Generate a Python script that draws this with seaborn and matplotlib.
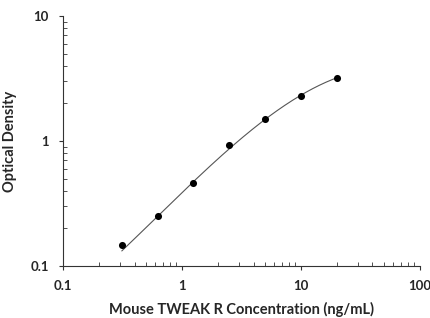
import matplotlib.pyplot as plt
import matplotlib.ticker as ticker
import seaborn as sns
import pandas as pd
import numpy as np

# standard curve readings
conc = [0.3125, 0.625, 1.25, 2.5, 5, 10, 20]
od = [0.147, 0.252, 0.464, 0.93, 1.50, 2.30, 3.21]

# fitted line
fit_conc = [0.3125, 0.625, 1.25, 2.5, 5, 10, 20]
fit_od = [0.1325, 0.248, 0.47, 0.88, 1.48, 2.30, 3.21]

sns.set_style("white")
plt.rcParams['font.family'] = ['Lato', 'DejaVu Sans']

df = pd.DataFrame({'conc': conc, 'od': od})

# smooth the fitted curve in log space
coef = np.polyfit(np.log10(fit_conc), np.log10(fit_od), 3)
xs = np.logspace(np.log10(fit_conc[0]), np.log10(fit_conc[-1]), 200)
curve = pd.DataFrame({'conc': xs, 'od': 10 ** np.polyval(coef, np.log10(xs))})

fig = plt.figure(figsize=(4.31, 3.18), dpi=100)
ax = fig.add_axes([0.146, 0.1635, 0.828, 0.7865])

sns.lineplot(data=curve, x='conc', y='od', ax=ax, color='#555555', linewidth=0.8)
sns.scatterplot(data=df, x='conc', y='od', ax=ax, color='black', s=26, edgecolor='black', linewidth=0, zorder=3)

ax.set_xscale('log')
ax.set_yscale('log')
ax.set_xlim(0.1, 100)
ax.set_ylim(0.1, 10)

ax.xaxis.set_major_formatter(ticker.FuncFormatter(lambda v, p: f'{v:g}'))
ax.yaxis.set_major_formatter(ticker.FuncFormatter(lambda v, p: f'{v:g}'))
ax.xaxis.set_minor_formatter(ticker.NullFormatter())
ax.yaxis.set_minor_formatter(ticker.NullFormatter())

for s in ['top', 'right']:
    ax.spines[s].set_visible(False)
for s in ['left', 'bottom']:
    ax.spines[s].set_color('#333333')
    ax.spines[s].set_linewidth(0.8)

ax.tick_params(which='major', direction='out', length=3, width=0.8, color='#333333',
               labelsize=9.5, pad=7, bottom=True, left=True)
ax.tick_params(which='minor', direction='in', length=3, width=0.6, color='#333333',
               bottom=True, left=True)
for lab in ax.get_xticklabels() + ax.get_yticklabels():
    lab.set_fontweight('bold')

ax.set_xlabel('Mouse TWEAK R Concentration (ng/mL)', fontsize=10.5, fontweight='bold', labelpad=7)
ax.set_ylabel('Optical Density', fontsize=10.5, fontweight='bold', labelpad=10)

fig.savefig('out.png', dpi=100)
